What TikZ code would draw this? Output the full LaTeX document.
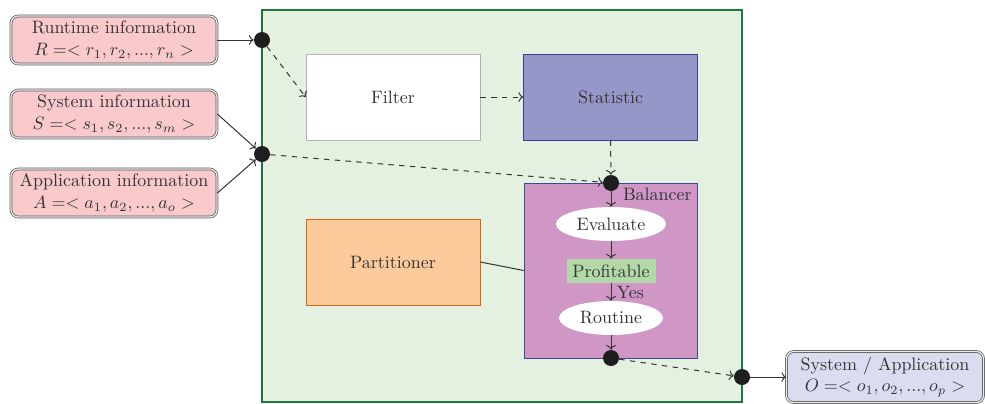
\documentclass[tikz,border=0pt]{standalone}
\usetikzlibrary{shapes.geometric,arrows.meta}
\definecolor{bggreen}{RGB}{228,240,224}
\definecolor{bgborder}{RGB}{30,120,64}
\definecolor{pinkfill}{RGB}{249,201,204}
\definecolor{statfill}{RGB}{149,151,201}
\definecolor{statborder}{RGB}{58,63,149}
\definecolor{balfill}{RGB}{207,150,198}
\definecolor{balborder}{RGB}{61,74,154}
\definecolor{partfill}{RGB}{253,202,156}
\definecolor{partborder}{RGB}{217,100,26}
\definecolor{proffill}{RGB}{179,217,168}
\definecolor{outfill}{RGB}{220,220,240}
\definecolor{txt}{RGB}{51,51,51}
\definecolor{dotc}{RGB}{30,30,30}
\begin{document}
\begin{tikzpicture}[x=0.557pt,y=-0.557pt,
  every node/.style={text=txt},
  infobox/.style={draw=gray!70!black, double=gray!15, double distance=0.7pt, rounded corners=4pt, fill=pinkfill, align=center, minimum width=206*0.557pt, minimum height=48*0.557pt, inner sep=1pt},
  outbox/.style={infobox, fill=outfill, minimum width=197*0.557pt, minimum height=51*0.557pt},
  blockbox/.style={draw, minimum width=174*0.557pt, minimum height=86*0.557pt},
  dotn/.style={circle, fill=dotc, minimum size=16*0.557pt, inner sep=0pt},
  oval/.style={ellipse, fill=white, inner sep=1pt},
  arr/.style={-{To[length=2.6pt]}, draw=txt, line width=0.55pt},
  darr/.style={arr, dashed},
]
\useasboundingbox (0,0) rectangle (985,403);
% main container
\node[draw=bgborder, fill=bggreen, semithick, minimum width=480*0.557pt, minimum height=392*0.557pt] (main) at (502,206) {};
% input boxes
\node[infobox] (rt) at (114,40) {Runtime information\\ $R =< r_1, r_2, ..., r_n >$};
\node[infobox] (sys) at (114,114) {System information\\ $S =< s_1, s_2, ..., s_m >$};
\node[infobox] (app) at (114,193) {Application information\\ $A =< a_1, a_2, ..., a_o >$};
% blocks
\node[blockbox, draw=gray!60, fill=white] (filter) at (393,97) {Filter};
\node[blockbox, draw=statborder, fill=statfill] (stat) at (610.5,97) {Statistic};
\node[blockbox, draw=partborder, fill=partfill] (part) at (393,262) {Partitioner};
\node[draw=balborder, fill=balfill, minimum width=173*0.557pt, minimum height=175*0.557pt] (bal) at (610.5,270.5) {};
\node[anchor=north east, inner sep=3pt] (ballab) at (bal.north east) {Balancer};
\node[oval, minimum width=110*0.557pt, minimum height=34*0.557pt] (eval) at (611,224) {Evaluate};
\node[fill=proffill, minimum width=89*0.557pt, minimum height=24*0.557pt, inner sep=1pt] (prof) at (611,271) {Profitable};
\node[oval, minimum width=104*0.557pt, minimum height=34*0.557pt] (rout) at (611,318) {Routine};
% output
\node[outbox] (out) at (885,377) {System / Application\\ $O =< o_1, o_2, ..., o_p >$};
% dots
\node[dotn] (d1) at (262,40) {};
\node[dotn] (d2) at (262,154) {};
\node[dotn] (d3) at (611,183) {};
\node[dotn] (d4) at (611,358) {};
\node[dotn] (d5) at (742,377) {};
% connectors
\draw[arr] (rt.east) -- (d1);
\draw[arr] (sys.east) -- (d2);
\draw[arr] (app.east) -- (d2);
\draw[darr] (d1) -- (filter.west);
\draw[darr] (filter.east) -- (stat.west);
\draw[darr] (stat.south) -- (d3);
\draw[darr] (d2) -- (d3);
\draw[arr] (d3) -- (eval);
\draw[arr] (eval) -- (prof);
\draw[arr] (prof) -- node[right, inner sep=3pt] (yes) {Yes} (rout);
\draw[arr] (rout) -- (d4);
\draw[darr] (d4) -- (d5);
\draw[arr] (d5) -- (out.west);
\draw[line width=0.55pt, draw=txt] (part.east) -- (bal.west);
\end{tikzpicture}
\end{document}
